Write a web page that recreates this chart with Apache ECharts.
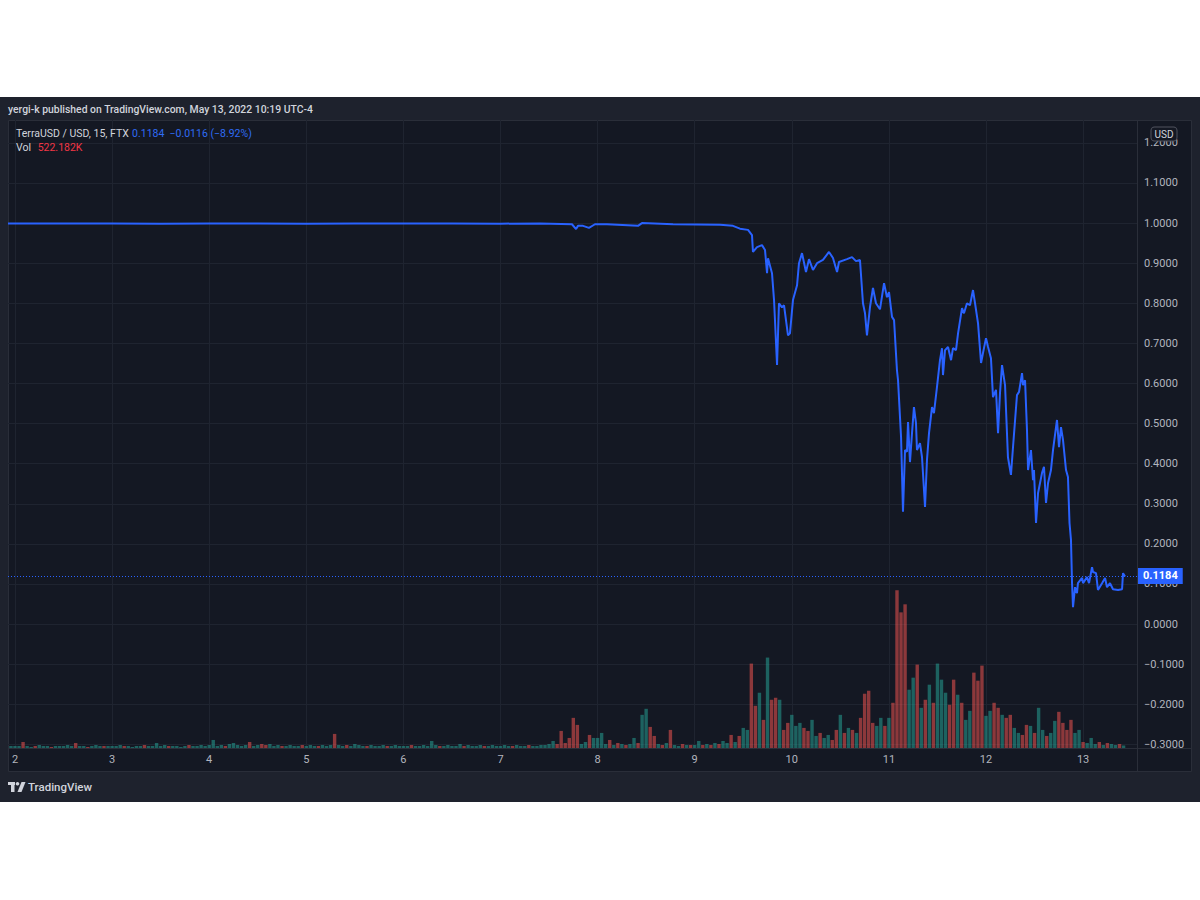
<!DOCTYPE html>
<html><head><meta charset="utf-8">
<script src="https://cdn.jsdelivr.net/npm/echarts@6/dist/echarts.min.js"></script>
<style>html,body{margin:0;padding:0;background:#fff;}#c{width:1200px;height:900px;}</style>
</head><body><div id="c"></div>
<script>
// ---- tick labels ----
const dayTicks = [2,3,4,5,6,7,8,9,10,11,12,13];
const priceTicks = [-0.3,-0.2,-0.1,0,0.1,0.2,0.3,0.4,0.5,0.6,0.7,0.8,0.9,1.0,1.1,1.2];

// ---- price (day of May 2022, local UTC-4) ----
const priceTimes = [
 1.928,2.5,3.0,3.5,4.0,4.5,5.0,5.5,6.0,6.5,7.0,7.407,7.736,7.778,7.798,7.850,7.911,7.973,8.097,8.416,8.457,8.777,
 9.261,9.394,9.466,9.549,9.590,9.600,9.642,9.693,9.724,9.745,9.755,9.796,9.817,9.848,9.868,9.899,9.920,9.940,9.961,9.981,
 10.012,10.054,10.074,10.105,10.146,10.177,10.218,10.260,10.321,10.383,10.424,10.466,10.486,10.568,10.620,10.661,10.702,
 10.733,10.754,10.774,10.805,10.836,10.867,10.908,10.950,10.980,
 11.001,11.032,11.053,11.083,11.094,11.125,11.145,11.166,11.186,11.197,11.217,11.238,11.258,11.279,11.289,11.320,11.341,
 11.372,11.392,11.413,11.444,11.464,11.495,11.526,11.547,11.557,11.578,11.609,11.640,11.660,11.691,11.712,11.753,11.773,
 11.804,11.835,11.866,11.887,11.918,11.949,11.969,
 12.000,12.021,12.051,12.072,12.103,12.124,12.144,12.165,12.196,12.226,12.257,12.278,12.319,12.340,12.371,12.381,12.402,
 12.422,12.433,12.463,12.484,12.494,12.515,12.536,12.577,12.597,12.618,12.639,12.669,12.690,12.731,12.752,12.772,12.793,
 12.824,12.844,12.860,12.875,12.886,12.896,12.917,12.937,12.947,12.989,12.999,
 13.040,13.061,13.092,13.102,13.133,13.153,13.195,13.226,13.246,13.277,13.308,13.360,13.401,13.411,13.432
];
const prices = [
 0.999,0.999,0.999,0.9985,0.999,0.999,0.9985,0.999,0.999,0.999,0.9985,0.999,0.997,0.985,0.993,0.993,0.988,0.997,0.997,0.993,1.000,0.997,
 0.996,0.993,0.986,0.983,0.970,0.928,0.940,0.945,0.933,0.875,0.912,0.875,0.808,0.646,0.800,0.790,0.795,0.758,0.720,0.725,
 0.808,0.845,0.900,0.925,0.878,0.910,0.883,0.900,0.908,0.928,0.913,0.878,0.903,0.910,0.915,0.905,0.908,
 0.800,0.775,0.720,0.790,0.838,0.800,0.785,0.850,0.815,
 0.828,0.766,0.758,0.633,0.608,0.467,0.280,0.434,0.430,0.504,0.404,0.476,0.541,0.501,0.434,0.451,0.416,
 0.292,0.409,0.476,0.541,0.526,0.591,0.658,0.688,0.621,0.683,0.691,0.658,0.688,0.683,0.725,0.788,0.775,
 0.800,0.795,0.833,0.800,0.750,0.651,0.676,
 0.713,0.691,0.663,0.566,0.584,0.476,0.576,0.646,0.596,0.416,0.372,0.441,0.571,0.579,0.626,0.596,0.608,
 0.484,0.384,0.434,0.359,0.384,0.252,0.327,0.377,0.392,0.302,0.352,0.384,0.434,0.509,0.441,0.491,0.459,
 0.384,0.367,0.252,0.210,0.102,0.042,0.092,0.077,0.102,0.115,0.102,
 0.117,0.102,0.142,0.130,0.127,0.085,0.102,0.115,0.092,0.102,0.087,0.085,0.087,0.127,0.1184
];
const lastPrice = 0.1184;

// ---- hourly volume, millions (first bar May 1 23:00) ----
const volStartDay = 1.9583;
const volStepDay = 1 / 24;
const volumes = [
 0.4,
 0.4,0.4,1.2,0.4,0.2,0.4,0.6,0.4,0.4,0.2,0.4,0.4,0.4,0.6,0.4,1.0,0.4,0.4,0.2,0.4,0.6,0.4,0.4,0.4,
 0.4,0.4,0.6,0.4,0.4,0.2,0.4,0.4,0.6,0.4,0.4,1.0,0.4,0.6,0.4,0.4,0.4,0.2,0.4,0.6,0.4,0.4,0.6,0.4,
 0.6,1.6,0.4,0.6,0.4,0.8,1.0,0.6,0.4,0.6,1.2,0.4,0.6,0.8,0.6,0.8,0.4,0.6,0.4,0.4,0.6,0.4,0.4,0.6,
 0.4,0.6,0.4,0.4,0.6,0.4,0.6,2.8,0.6,0.4,0.6,0.4,0.8,0.6,0.4,0.4,0.6,0.4,0.4,0.6,0.4,0.4,0.6,0.4,
 0.4,0.4,0.6,0.4,0.4,0.6,0.4,1.4,0.6,0.4,0.4,0.6,0.4,0.4,0.8,0.4,0.6,0.4,0.4,0.6,0.4,0.4,0.6,0.4,
 0.4,0.6,0.4,0.4,0.6,0.4,0.4,0.6,0.4,0.4,0.6,0.6,0.8,1.4,0.8,3.4,1.0,2.0,6.0,4.6,0.8,1.2,2.6,2.0,
 2.0,3.0,0.8,1.6,0.6,1.0,0.8,0.6,0.8,2.0,1.0,6.6,7.8,4.2,2.4,0.8,0.6,1.0,3.6,0.6,0.4,0.8,0.6,0.6,
 0.6,1.4,0.6,0.8,0.6,1.0,0.8,1.4,1.0,2.6,1.2,2.4,4.0,3.6,16.8,8.4,11.0,5.6,18.0,9.6,10.0,9.6,3.6,5.0,
 6.6,4.4,5.0,4.0,3.4,5.6,2.4,3.0,2.0,2.6,1.6,3.6,6.6,3.0,4.0,3.6,3.0,6.0,10.8,11.4,5.0,4.4,6.0,4.4,
 6.0,9.0,31.4,27.0,28.6,11.6,14.0,16.6,8.0,9.6,12.6,9.0,16.8,13.6,11.0,8.6,13.6,10.6,9.0,5.6,7.4,15.0,13.4,16.4,
 6.4,7.4,9.0,8.0,6.6,6.0,6.6,4.0,3.0,2.6,4.6,4.4,3.0,8.0,3.6,2.4,3.0,5.4,7.2,5.0,3.6,5.6,3.0,3.6,
 1.2,1.0,2.0,0.8,1.2,0.6,1.0,0.8,0.6,0.8,0.5
];
const volUp = [
 1,
 1,1,0,1,1,0,1,1,1,0,1,1,1,1,1,0,1,1,0,1,1,1,0,1,
 1,1,1,0,1,1,1,1,0,1,1,1,1,1,0,1,1,1,1,0,1,1,1,1,
 1,1,1,1,0,1,1,1,1,1,0,1,1,0,0,1,1,1,0,1,1,1,1,0,
 1,1,1,0,1,1,1,0,1,1,0,1,1,1,1,0,1,1,1,1,0,1,1,1,
 1,1,0,1,1,1,1,1,1,0,1,1,1,1,1,0,1,1,1,1,0,1,1,1,
 1,1,1,0,1,1,1,0,1,1,1,1,1,1,0,0,0,0,0,0,1,1,0,1,
 1,1,1,0,1,0,1,0,1,1,0,1,1,0,0,1,0,1,0,1,1,0,1,0,
 1,1,0,1,0,1,0,1,1,0,1,0,1,1,0,0,1,0,1,0,0,1,0,0,
 1,1,1,0,0,1,1,0,1,1,0,0,1,0,1,0,1,0,0,0,0,1,1,0,
 1,0,0,0,0,1,1,0,1,0,1,0,1,1,1,0,0,1,0,1,1,0,0,0,
 1,1,0,0,1,0,0,1,1,0,0,1,0,1,1,0,1,1,0,0,0,0,1,1,
 0,1,1,1,0,1,0,1,1,0,1
];

// ---- styles ----
const FONT = 'Roboto, "Noto Sans", sans-serif';
const UP = 'rgba(38,166,154,0.52)';
const DOWN = 'rgba(239,83,80,0.55)';
const BLUE = '#2962ff';
const GRID = '#1f2430';
const TXT = '#b2b5be';

const chart = echarts.init(document.getElementById('c'), null, {renderer: 'svg'});
const fmtPrice = v => (v < 0 ? '\u2212' : '') + Math.abs(v).toFixed(4);

chart.setOption({
  backgroundColor: 'transparent',
  animation: false,
  textStyle: {fontFamily: FONT},
  grid: {left: 8, right: 63, top: 120, bottom: 152, containLabel: false},
  xAxis: {
    type: 'value', min: 1.928, max: 13.555,
    axisLine: {show: false},
    axisTick: {show: false, customValues: dayTicks},
    axisLabel: {customValues: dayTicks, color: TXT, fontSize: 11, margin: 6, fontFamily: FONT,
      formatter: v => String(Math.round(v))},
    splitLine: {show: true, lineStyle: {color: GRID, width: 1}}
  },
  yAxis: [{
    type: 'value', position: 'right', min: -0.309, max: 1.257,
    axisLine: {show: false},
    axisTick: {show: false, customValues: priceTicks},
    axisLabel: {customValues: priceTicks, color: TXT, fontSize: 11, margin: 7, fontFamily: FONT, formatter: fmtPrice},
    splitLine: {show: true, lineStyle: {color: GRID, width: 1}}
  }, {
    type: 'value', min: 0, max: 125, show: false,
    splitLine: {show: false}
  }],
  series: [{
    type: 'bar', yAxisIndex: 1, barWidth: 3.4, z: 1,
    data: volumes.map((v, i) => ({
      value: [volStartDay + i * volStepDay, v],
      itemStyle: {color: volUp[i] ? UP : DOWN}
    }))
  }, {
    type: 'line', z: 3, showSymbol: false, symbol: 'none',
    lineStyle: {color: BLUE, width: 2},
    data: priceTimes.map((t, i) => [t, prices[i]]),
    markLine: {
      silent: true, symbol: 'none', animation: false,
      lineStyle: {color: BLUE, type: [1, 2], width: 1},
      label: {position: 'end', distance: 1, formatter: fmtPrice(lastPrice), color: '#fff',
        backgroundColor: BLUE, padding: [3, 5, 2, 5], fontSize: 11, fontWeight: 'bold', fontFamily: FONT},
      data: [{yAxis: lastPrice}]
    }
  }],
  graphic: {elements: [
    {type: 'rect', z: -20, silent: true, shape: {x: 0, y: 97, width: 1200, height: 705}, style: {fill: '#1e222d'}},
    {type: 'rect', z: -19, silent: true, shape: {x: 8.5, y: 120.5, width: 1183, height: 651}, style: {fill: '#141823', stroke: '#2a2e39', lineWidth: 1}},
    {type: 'line', z: 50, silent: true, shape: {x1: 8, y1: 748.5, x2: 1192, y2: 748.5}, style: {stroke: '#2a2e39', lineWidth: 1}},
    {type: 'line', z: 50, silent: true, shape: {x1: 1137.5, y1: 120, x2: 1137.5, y2: 772}, style: {stroke: '#2a2e39', lineWidth: 1}},
    {type: 'text', z: 100, x: 8, y: 109, style: {text: 'yergi-k published on TradingView.com, May 13, 2022 10:19 UTC-4',
      fill: '#d1d4dc', font: '500 10.4px ' + FONT, verticalAlign: 'middle'}},
    {type: 'text', z: 100, x: 16, y: 133, style: {
      text: '{a|TerraUSD / USD, 15, FTX} {b|0.1184  \u22120.0116 (\u22128.92%)}',
      verticalAlign: 'middle',
      rich: {a: {fill: '#d1d4dc', fontSize: 10.5, fontFamily: FONT}, b: {fill: '#2f6cf5', fontSize: 10.5, fontFamily: FONT}}}},
    {type: 'text', z: 100, x: 16, y: 147, style: {
      text: '{a|Vol}  {b|522.182K}', verticalAlign: 'middle',
      rich: {a: {fill: '#d1d4dc', fontSize: 10.5, fontFamily: FONT}, b: {fill: '#f23645', fontSize: 10.5, fontFamily: FONT}}}},
    {type: 'text', z: 100, x: 1164, y: 134, style: {text: 'USD', fill: '#d1d4dc', font: '10px ' + FONT,
      align: 'center', verticalAlign: 'middle', backgroundColor: '#141823', borderColor: '#50535e', borderWidth: 1,
      borderRadius: 3, padding: [2, 3, 1, 3]}},
    {type: 'rect', z: 100, silent: true, shape: {x: 8, y: 782, width: 7, height: 3}, style: {fill: '#d1d4dc'}},
    {type: 'rect', z: 100, silent: true, shape: {x: 11, y: 782, width: 3.5, height: 10}, style: {fill: '#d1d4dc'}},
    {type: 'circle', z: 100, silent: true, shape: {cx: 17.5, cy: 783.8, r: 1.8}, style: {fill: '#d1d4dc'}},
    {type: 'polygon', z: 100, silent: true, shape: {points: [[21.5,782],[25.5,782],[21.5,792],[17.5,792]]}, style: {fill: '#d1d4dc'}},
    {type: 'text', z: 100, x: 28, y: 787, style: {text: 'TradingView', fill: '#d1d4dc', font: '500 11.5px ' + FONT, verticalAlign: 'middle'}}
  ]}
});
</script>
</body></html>
